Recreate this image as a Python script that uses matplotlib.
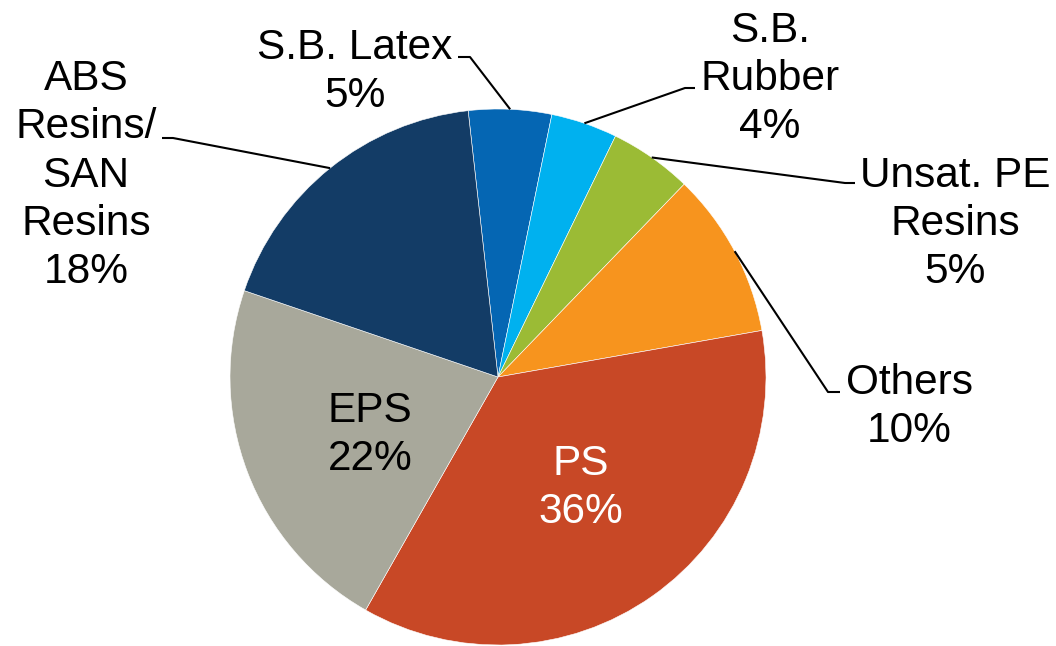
import matplotlib.pyplot as plt
import numpy as np

plt.rcParams['font.family'] = ['Liberation Sans', 'DejaVu Sans']

# data
names = ["S.B. Latex", "S.B.\nRubber", "Unsat. PE\nResins", "Others", "PS", "EPS",
         "ABS\nResins/\nSAN\nResins"]
shares = [5, 4, 5, 10, 36, 22, 18]
colors = ["#0566B3", "#00B1EF", "#9BBB35", "#F7941E", "#C84826", "#A8A89B", "#133C66"]

W, H = 1056, 646
cx, cy, r = 498, 377, 268

# label layout in pixel coords: (x center, last baseline y) and leader elbow
label_pos = [(355, 107), (770, 138), (955, 283), (909, 442), (581, 523), (370, 470), (86, 283)]
leaders = [((458, 57), (470, 57)), ((695, 88), (685, 88)), ((855, 183), (845, 183)),
           ((840, 392), (828, 392)), None, None, ((162, 138), (173, 138))]
text_colors = ["black", "black", "black", "black", "white", "black", "black"]

fig = plt.figure(figsize=(W / 100, H / 100), dpi=100)
ax = fig.add_axes([0, 0, 1, 1])

wedges, _ = ax.pie(shares, colors=colors, startangle=96.4, counterclock=False,
                   center=(cx, H - cy), radius=r, frame=True,
                   wedgeprops=dict(edgecolor='white', linewidth=0.4))
ax.set_xlim(0, W)
ax.set_ylim(0, H)
ax.set_aspect('equal')
ax.axis('off')

for w, name, val, pos, ld, tc in zip(wedges, names, shares, label_pos, leaders, text_colors):
    ax.text(pos[0], H - pos[1], f"{name}\n{val}%", ha='center', va='baseline',
            fontsize=30.5, color=tc, linespacing=1.265, multialignment='center')
    if ld is not None:
        mid = np.deg2rad((w.theta1 + w.theta2) / 2)
        ex = cx + r * np.cos(mid)
        ey = (H - cy) + r * np.sin(mid)
        ax.plot([ld[0][0], ld[1][0], ex], [H - ld[0][1], H - ld[1][1], ey],
                color='black', lw=1.5, solid_capstyle='butt')

fig.savefig("out.png", dpi=100)
